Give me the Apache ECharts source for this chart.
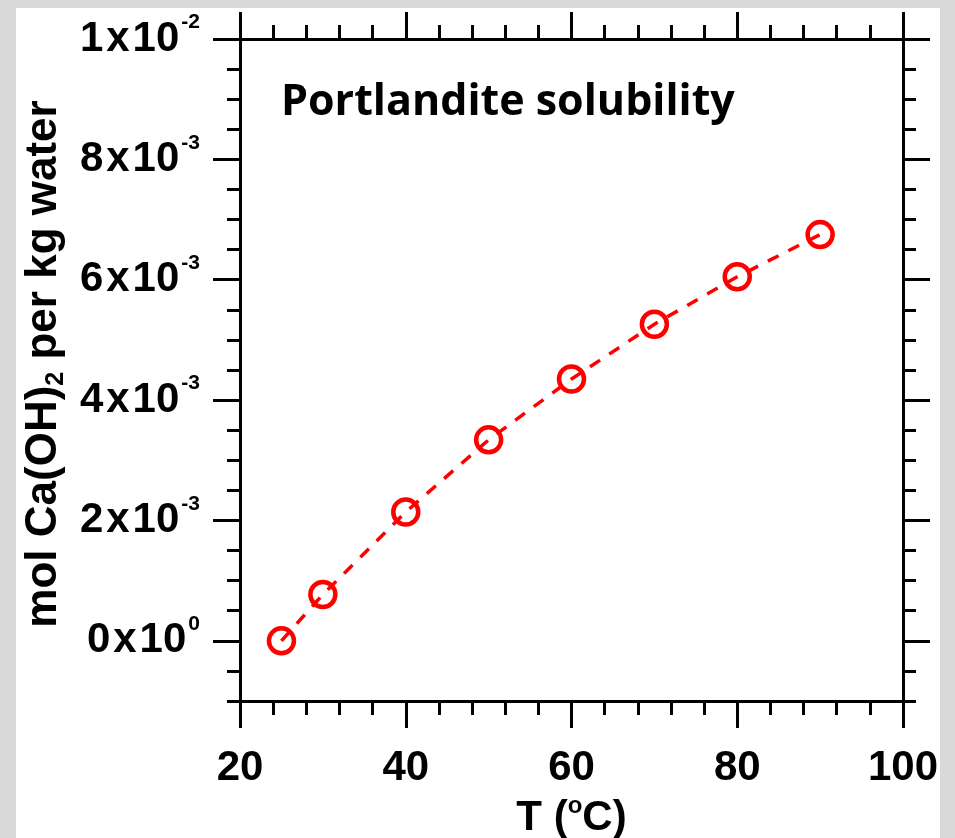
<!DOCTYPE html>
<html>
<head>
<meta charset="utf-8">
<script src="https://cdn.jsdelivr.net/npm/echarts@6/dist/echarts.min.js"></script>
<style>
  html, body { margin: 0; padding: 0; background: #d9d9d9; }
  #chart { width: 955px; height: 838px; }
</style>
</head>
<body>
<div id="chart"></div>
<script>
// temperature (deg C) and portlandite solubility (mol Ca(OH)2 / kg water)
const temps = [25, 30, 40, 50, 60, 70, 80, 90];
const solubility = [0.0000, 0.00077, 0.00214, 0.00334, 0.00435, 0.00526, 0.00605, 0.00675];

const yMajor = [0, 0.002, 0.004, 0.006, 0.008, 0.01];
const yLabels = ['0|10|0', '2|10|-3', '4|10|-3', '6|10|-3', '8|10|-3', '1|10|-2'];

const ink = '#000';
const red = '#ff0000';
const labelFont = 'Liberation Sans, Arial, sans-serif';

let chart = echarts.init(document.getElementById('chart'));

const lineStyle = { color: ink, width: 3 };

function xAx(pos, major) {
  return {
    type: 'value', position: pos, min: 20, max: 100,
    interval: major ? 20 : 4,
    axisLine: { show: true, onZero: false, lineStyle: lineStyle },
    axisTick: { show: true, inside: false, length: major ? 27 : 14, lineStyle: lineStyle },
    axisLabel: (major && pos === 'bottom') ? {
      show: true, margin: 46, color: ink, fontFamily: labelFont, fontWeight: 'bold', fontSize: 42
    } : { show: false },
    splitLine: { show: false }
  };
}

function yAx(pos, major) {
  let ax = {
    type: 'value', position: pos, min: -0.001, max: 0.01,
    axisLine: { show: true, onZero: false, lineStyle: lineStyle },
    axisTick: { show: true, inside: false, length: major ? 27 : 13, lineStyle: lineStyle },
    axisLabel: { show: false },
    splitLine: { show: false }
  };
  if (major) {
    ax.axisTick.customValues = yMajor;
    ax.axisLabel = { show: false, customValues: yMajor };
  } else {
    ax.interval = 0.0005;
  }
  return ax;
}

const mStyle = { fontFamily: labelFont, fontWeight: 'bold', fontSize: 42, lineHeight: 42, color: ink, verticalAlign: 'bottom' };

let yMain = yAx('left', true);
yMain.axisLabel = {
  show: true,
  customValues: yMajor,
  margin: 40,
  formatter: function (v) {
    let i = yMajor.findIndex(m => Math.abs(m - v) < 1e-9);
    if (i < 0) return '';
    let p = yLabels[i].split('|');
    return '{m|' + p[0] + '}{x|x}{m|' + p[1] + '}{s|' + p[2] + '}';
  },
  rich: {
    m: mStyle,
    x: Object.assign({}, mStyle, { padding: [0, 3, 0, 3] }),
    s: { fontFamily: labelFont, fontWeight: 'bold', fontSize: 21, lineHeight: 21, color: ink, verticalAlign: 'bottom', padding: [0, 0, 27, 2] }
  }
};
const nameStyle = { fontFamily: labelFont, fontWeight: 'bold', fontSize: 44, lineHeight: 44, color: ink, verticalAlign: 'top' };
yMain.name = '{f|mol Ca(OH)}{b|2}{a| per kg water}';
yMain.nameLocation = 'middle';
yMain.nameGap = 172;
yMain.nameRotate = 90;
yMain.nameTextStyle = {
  rich: {
    f: Object.assign({}, nameStyle, { padding: [0, 0, 0, 12] }),
    a: nameStyle,
    b: { fontFamily: labelFont, fontWeight: 'bold', fontSize: 25, lineHeight: 25, color: ink, verticalAlign: 'top', padding: [22, 0, 0, 0] }
  }
};

let xMain = xAx('bottom', true);
xMain.name = '{a|T (}{b|o}{a|C)}';
xMain.nameLocation = 'middle';
xMain.nameGap = 91;
xMain.nameTextStyle = {
  rich: {
    a: { fontFamily: labelFont, fontWeight: 'bold', fontSize: 42, lineHeight: 42, color: ink, verticalAlign: 'bottom' },
    b: { fontFamily: labelFont, fontWeight: 'bold', fontSize: 24, lineHeight: 24, color: ink, verticalAlign: 'bottom', padding: [0, 0, 22, 0] }
  }
};

let option = {
  backgroundColor: '#d9d9d9',
  animation: false,
  graphic: [{
    type: 'rect', z: -10, silent: true,
    shape: { x: 16, y: 8, width: 924, height: 830 },
    style: { fill: '#ffffff' }
  }],
  title: {
    text: 'Portlandite solubility',
    left: 276, top: 76,
    textStyle: { fontFamily: 'Open Sans, Noto Sans, sans-serif', fontWeight: 'bold', fontSize: 43, color: ink }
  },
  grid: { left: 240, top: 39, right: 52, bottom: 137, containLabel: false, outerBoundsMode: 'none' },
  xAxis: [xMain, xAx('bottom', false), xAx('top', true), xAx('top', false)],
  yAxis: [yMain, yAx('left', false), yAx('right', true), yAx('right', false)],
  series: [{
    type: 'line',
    xAxisIndex: 0, yAxisIndex: 0,
    data: temps.map((t, i) => [t, solubility[i]]),
    symbol: 'circle',
    symbolSize: 25,
    lineStyle: { color: red, width: 3.5, type: [12, 11] },
    itemStyle: { color: 'rgba(0,0,0,0)', borderColor: red, borderWidth: 4.5 },
    z: 5
  }]
};

chart.setOption(option);
</script>
</body>
</html>
